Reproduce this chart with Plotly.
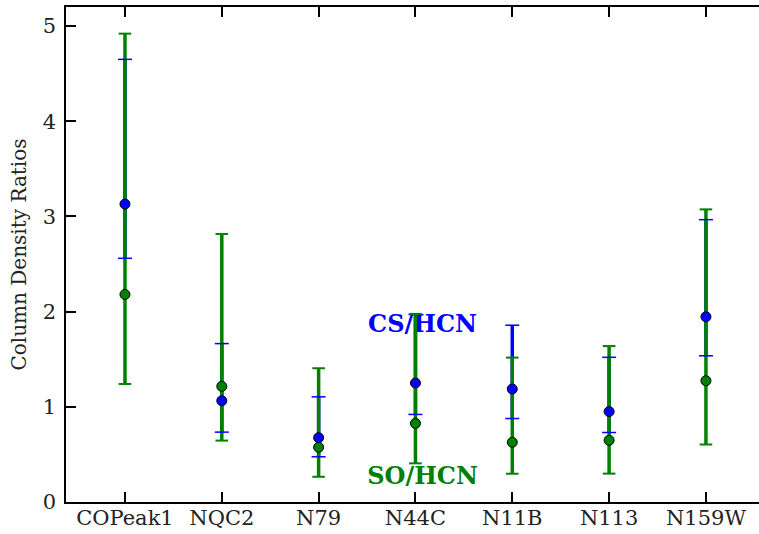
import plotly.graph_objects as go

# Regions and measured column density ratios (relative to HCN)
regions = ["COPeak1", "NQC2", "N79", "N44C", "N11B", "N113", "N159W"]

cs_hcn = [3.13, 1.064, 0.675, 1.25, 1.187, 0.95, 1.946]
cs_err_plus = [1.52, 0.60, 0.43, 0.72, 0.67, 0.57, 1.02]
cs_err_minus = [0.57, 0.33, 0.20, 0.33, 0.31, 0.22, 0.41]

so_hcn = [2.18, 1.215, 0.575, 0.826, 0.627, 0.648, 1.274]
so_err_plus = [2.74, 1.60, 0.83, 1.15, 0.89, 0.99, 1.80]
so_err_minus = [0.94, 0.57, 0.31, 0.42, 0.33, 0.35, 0.67]

y_ticks = [0, 1, 2, 3, 4, 5]

BLUE = "#0000ff"
GREEN = "#008000"
FONT = "DejaVu Serif"

xs = list(range(len(regions)))

fig = go.Figure()

# Series labels, drawn first so the error bars sit on top of them
fig.add_trace(go.Scatter(
    x=[3.073], y=[1.85], mode="text", text=["<b>CS/HCN</b>"],
    textposition="middle center",
    textfont=dict(family=FONT, size=24, color=BLUE),
    hoverinfo="skip", showlegend=False,
))
fig.add_trace(go.Scatter(
    x=[3.073], y=[0.25], mode="text", text=["<b>SO/HCN</b>"],
    textposition="middle center",
    textfont=dict(family=FONT, size=24, color=GREEN),
    hoverinfo="skip", showlegend=False,
))


def bar_trace(vals, plus, minus, color):
    # Thick vertical error bar without caps
    return go.Scatter(
        x=xs, y=vals, mode="markers",
        marker=dict(size=1, color="rgba(0,0,0,0)"),
        error_y=dict(type="data", symmetric=False, array=plus,
                     arrayminus=minus, color=color, thickness=3.5, width=0),
        hoverinfo="skip", showlegend=False,
    )


def cap_trace(vals, plus, minus, color, size, lw):
    # Thin horizontal caps at both ends of each error bar
    cx = xs + xs
    cy = [v + p for v, p in zip(vals, plus)] + [v - m for v, m in zip(vals, minus)]
    return go.Scatter(
        x=cx, y=cy, mode="markers",
        marker=dict(symbol="line-ew", size=size,
                    line=dict(color=color, width=lw)),
        hoverinfo="skip", showlegend=False,
    )


def point_trace(vals, color, name):
    return go.Scatter(
        x=xs, y=vals, mode="markers", name=name,
        marker=dict(size=10, color=color, line=dict(color="black", width=1)),
        showlegend=False,
    )


fig.add_trace(bar_trace(cs_hcn, cs_err_plus, cs_err_minus, BLUE))
fig.add_trace(bar_trace(so_hcn, so_err_plus, so_err_minus, GREEN))
fig.add_trace(cap_trace(cs_hcn, cs_err_plus, cs_err_minus, BLUE, 10, 1.5))
fig.add_trace(cap_trace(so_hcn, so_err_plus, so_err_minus, GREEN, 9, 2))
fig.add_trace(point_trace(so_hcn, GREEN, "SO/HCN"))
fig.add_trace(point_trace(cs_hcn, BLUE, "CS/HCN"))

tick_style = dict(
    ticks="inside", ticklen=10, tickwidth=1.5, tickcolor="black",
    showgrid=False, zeroline=False,
    tickfont=dict(family=FONT, size=21, color="#222222"),
)

fig.update_xaxes(
    range=[-0.609, 6.548], tickmode="array", tickvals=xs, ticktext=regions,
    showline=True, linecolor="black", linewidth=1.5,
    mirror="ticks", ticklabelstandoff=-4, **tick_style,
)
fig.update_yaxes(
    range=[0, 5.2], tickmode="array", tickvals=y_ticks,
    ticktext=[str(t) for t in y_ticks],
    showline=True, linecolor="black", linewidth=1.5,
    mirror=False, ticklabelstandoff=4,
    title=dict(text="Column Density Ratios",
               font=dict(family=FONT, size=20, color="#222222"), standoff=11),
    **tick_style,
)

# Right-hand ticks only (the frame is open on that side)
fig.update_layout(
    yaxis2=dict(
        overlaying="y", side="right", range=[0, 5.2],
        tickmode="array", tickvals=y_ticks, showticklabels=False,
        showline=False, **tick_style,
    ),
)

fig.update_layout(
    width=759, height=534,
    margin=dict(l=66, r=0, t=7, b=32),
    paper_bgcolor="white", plot_bgcolor="white",
    showlegend=False,
)

fig.write_html("out.html")
